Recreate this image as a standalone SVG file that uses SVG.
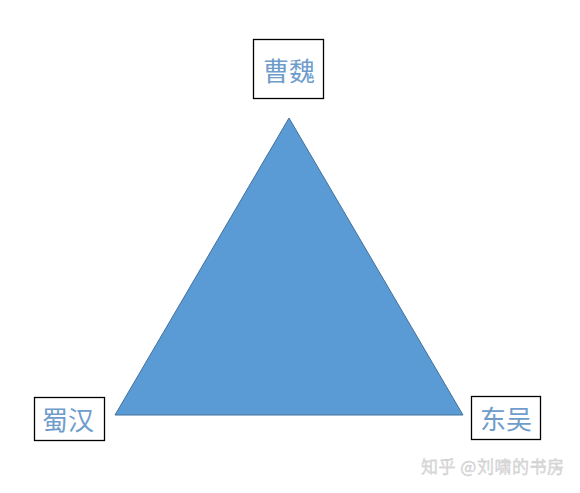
<svg xmlns="http://www.w3.org/2000/svg" width="580" height="493" viewBox="0 0 580 493">
<style>
.box{fill:#fff;stroke:#000;stroke-width:1.3}
.lbl{font-family:"Noto Sans CJK SC","Noto Sans",sans-serif;font-size:26px;fill:#6f9dcb;text-anchor:middle;dominant-baseline:central}
.wm{font-family:"Noto Sans CJK SC","Noto Sans",sans-serif;font-size:17px;fill:#dcdcdc;stroke:#c4c4c4;stroke-width:0.3;letter-spacing:0.5px}
</style>
<rect width="580" height="493" fill="#fff"/>
<g id="connectors">
<polygon points="289,118 115,415 463,415" fill="#5b9bd5" stroke="#41719c" stroke-width="1"/>
</g>
<g id="node-caowei">
<rect class="box" x="253.5" y="39.5" width="70" height="59"/>
<text class="lbl" x="289" y="69">曹魏</text>
</g>
<g id="node-shuhan">
<rect class="box" x="34.5" y="397.5" width="70" height="43"/>
<text class="lbl" x="68" y="418">蜀汉</text>
</g>
<g id="node-dongwu">
<rect class="box" x="471.5" y="396.5" width="69" height="43"/>
<text class="lbl" x="506" y="417">东吴</text>
</g>
<text class="wm" x="421" y="473">知乎 @刘啸的书房</text>
</svg>
